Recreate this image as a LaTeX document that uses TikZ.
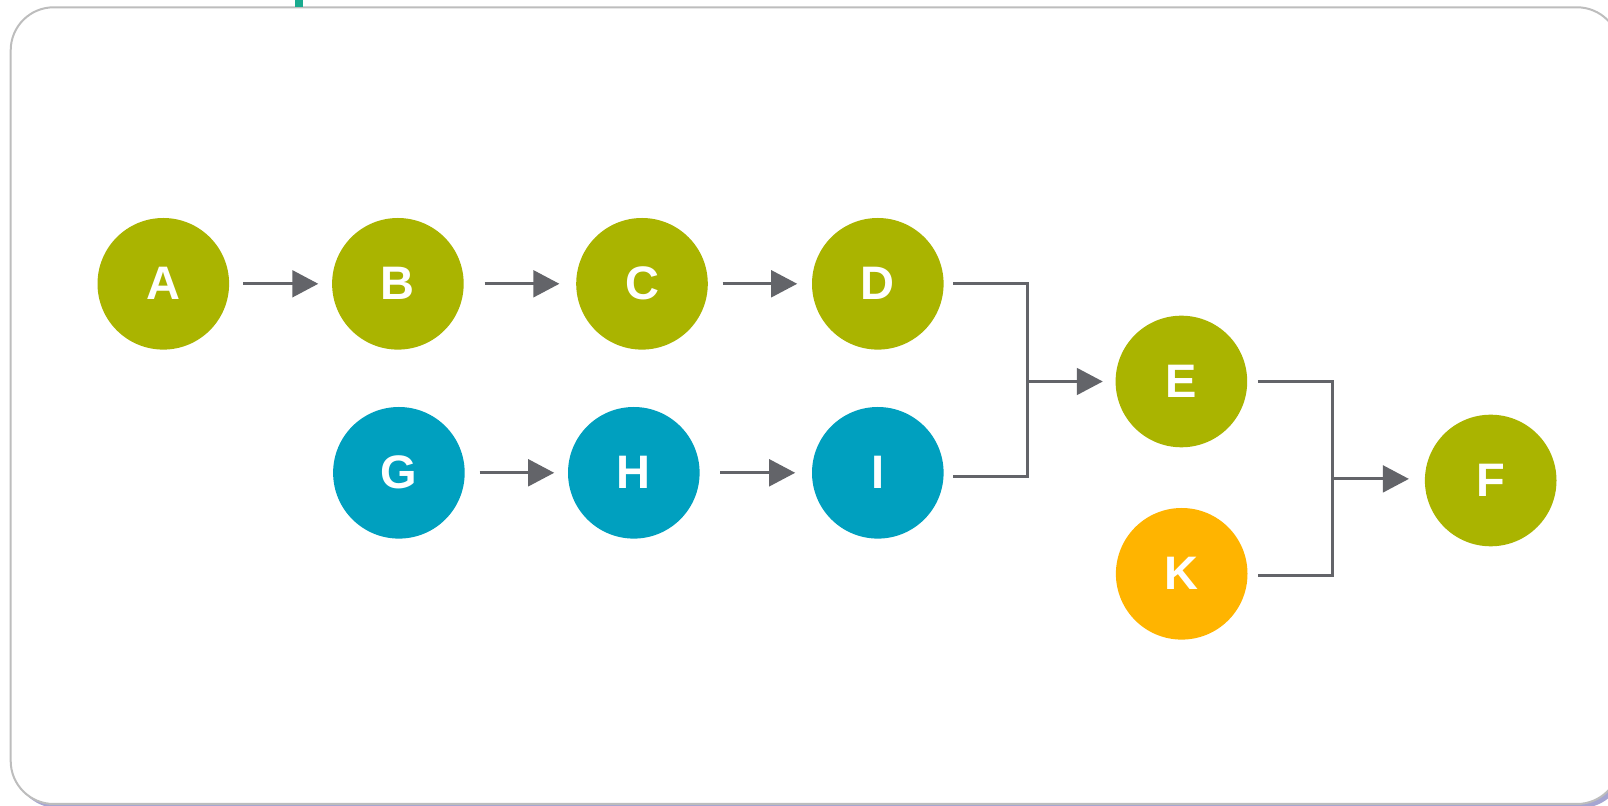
\documentclass[tikz,border=0pt]{standalone}
\usepackage{fontspec}
\setmainfont{Liberation Sans}
\usetikzlibrary{arrows.meta}
\definecolor{leaf}{HTML}{AAB400}
\definecolor{sea}{HTML}{00A0BF}
\definecolor{amber}{HTML}{FFB400}
\definecolor{wire}{HTML}{636469}
\definecolor{rim}{HTML}{BDBDBD}
\definecolor{haze}{HTML}{A6A6D2}
\definecolor{tab}{HTML}{1AAB8F}
\tikzset{
  ball/.style={circle, minimum size=65.8pt, inner sep=0pt, text=white,
    font=\fontsize{23.5}{28}\selectfont\bfseries},
  greenball/.style={ball, fill=leaf},
  blueball/.style={ball, fill=sea},
  amberball/.style={ball, fill=amber},
  conn/.style={draw=wire, line width=1.6pt},
  flow/.style={conn, -{Triangle[length=13pt,width=13.3pt]}},
}
\begin{document}
\begin{tikzpicture}[x=0.5pt, y=-0.5pt]
  \useasboundingbox (0,0) rectangle (1608,806);
  \clip (0,0) rectangle (1608,806);
  % panel with its shadow
  \fill[haze, rounded corners=21.5pt] (14.5,11) rectangle (1624,808);
  \filldraw[fill=white, draw=rim, line width=1pt, rounded corners=21.5pt]
    (10.7,7.3) rectangle (1620,804);
  \fill[tab] (295,0) rectangle (303,7.3);

  % nodes
  \node[greenball] (A) at (163.3,283.8) {A};
  \node[greenball] (B) at (397.9,283.8) {B};
  \node[greenball] (C) at (642.0,283.8) {C};
  \node[greenball] (D) at (877.8,283.8) {D};
  \node[blueball]  (G) at (398.9,472.8) {G};
  \node[blueball]  (H) at (633.8,472.8) {H};
  \node[blueball]  (I) at (877.8,472.8) {I};
  \node[greenball] (E) at (1181.4,381.5) {E};
  \node[amberball] (K) at (1181.7,573.8) {K};
  \node[greenball] (F) at (1490.7,480.5) {F};

  % straight arrows along the two rows
  \draw[flow] ([xshift=6.9pt]A.east) -- ([xshift=-6.7pt]B.west);
  \draw[flow] ([xshift=10.2pt]B.east) -- ([xshift=-8.2pt]C.west);
  \draw[flow] ([xshift=7.2pt]C.east) -- ([xshift=-7.2pt]D.west);
  \draw[flow] ([xshift=7.2pt]G.east) -- ([xshift=-6.7pt]H.west);
  \draw[flow] ([xshift=10.2pt]H.east) -- ([xshift=-8.2pt]I.west);

  % D and I merge into E
  \coordinate (m1) at (1027.6,381.5);
  \draw[conn] ([xshift=4.6pt]D.east) -| (m1) |- ([xshift=4.6pt,yshift=-2pt]I.east);
  \draw[flow] (m1) -- ([xshift=-6.2pt]E.west);

  % E and K merge into F
  \coordinate (m2) at (1332.1,478.9);
  \draw[conn] ([xshift=5.1pt]E.east) -| (m2) |- ([xshift=5.1pt,yshift=-0.75pt]K.east);
  \draw[flow] (m2) -- ([xshift=-7.8pt]m2 -| F.west);
\end{tikzpicture}
\end{document}
